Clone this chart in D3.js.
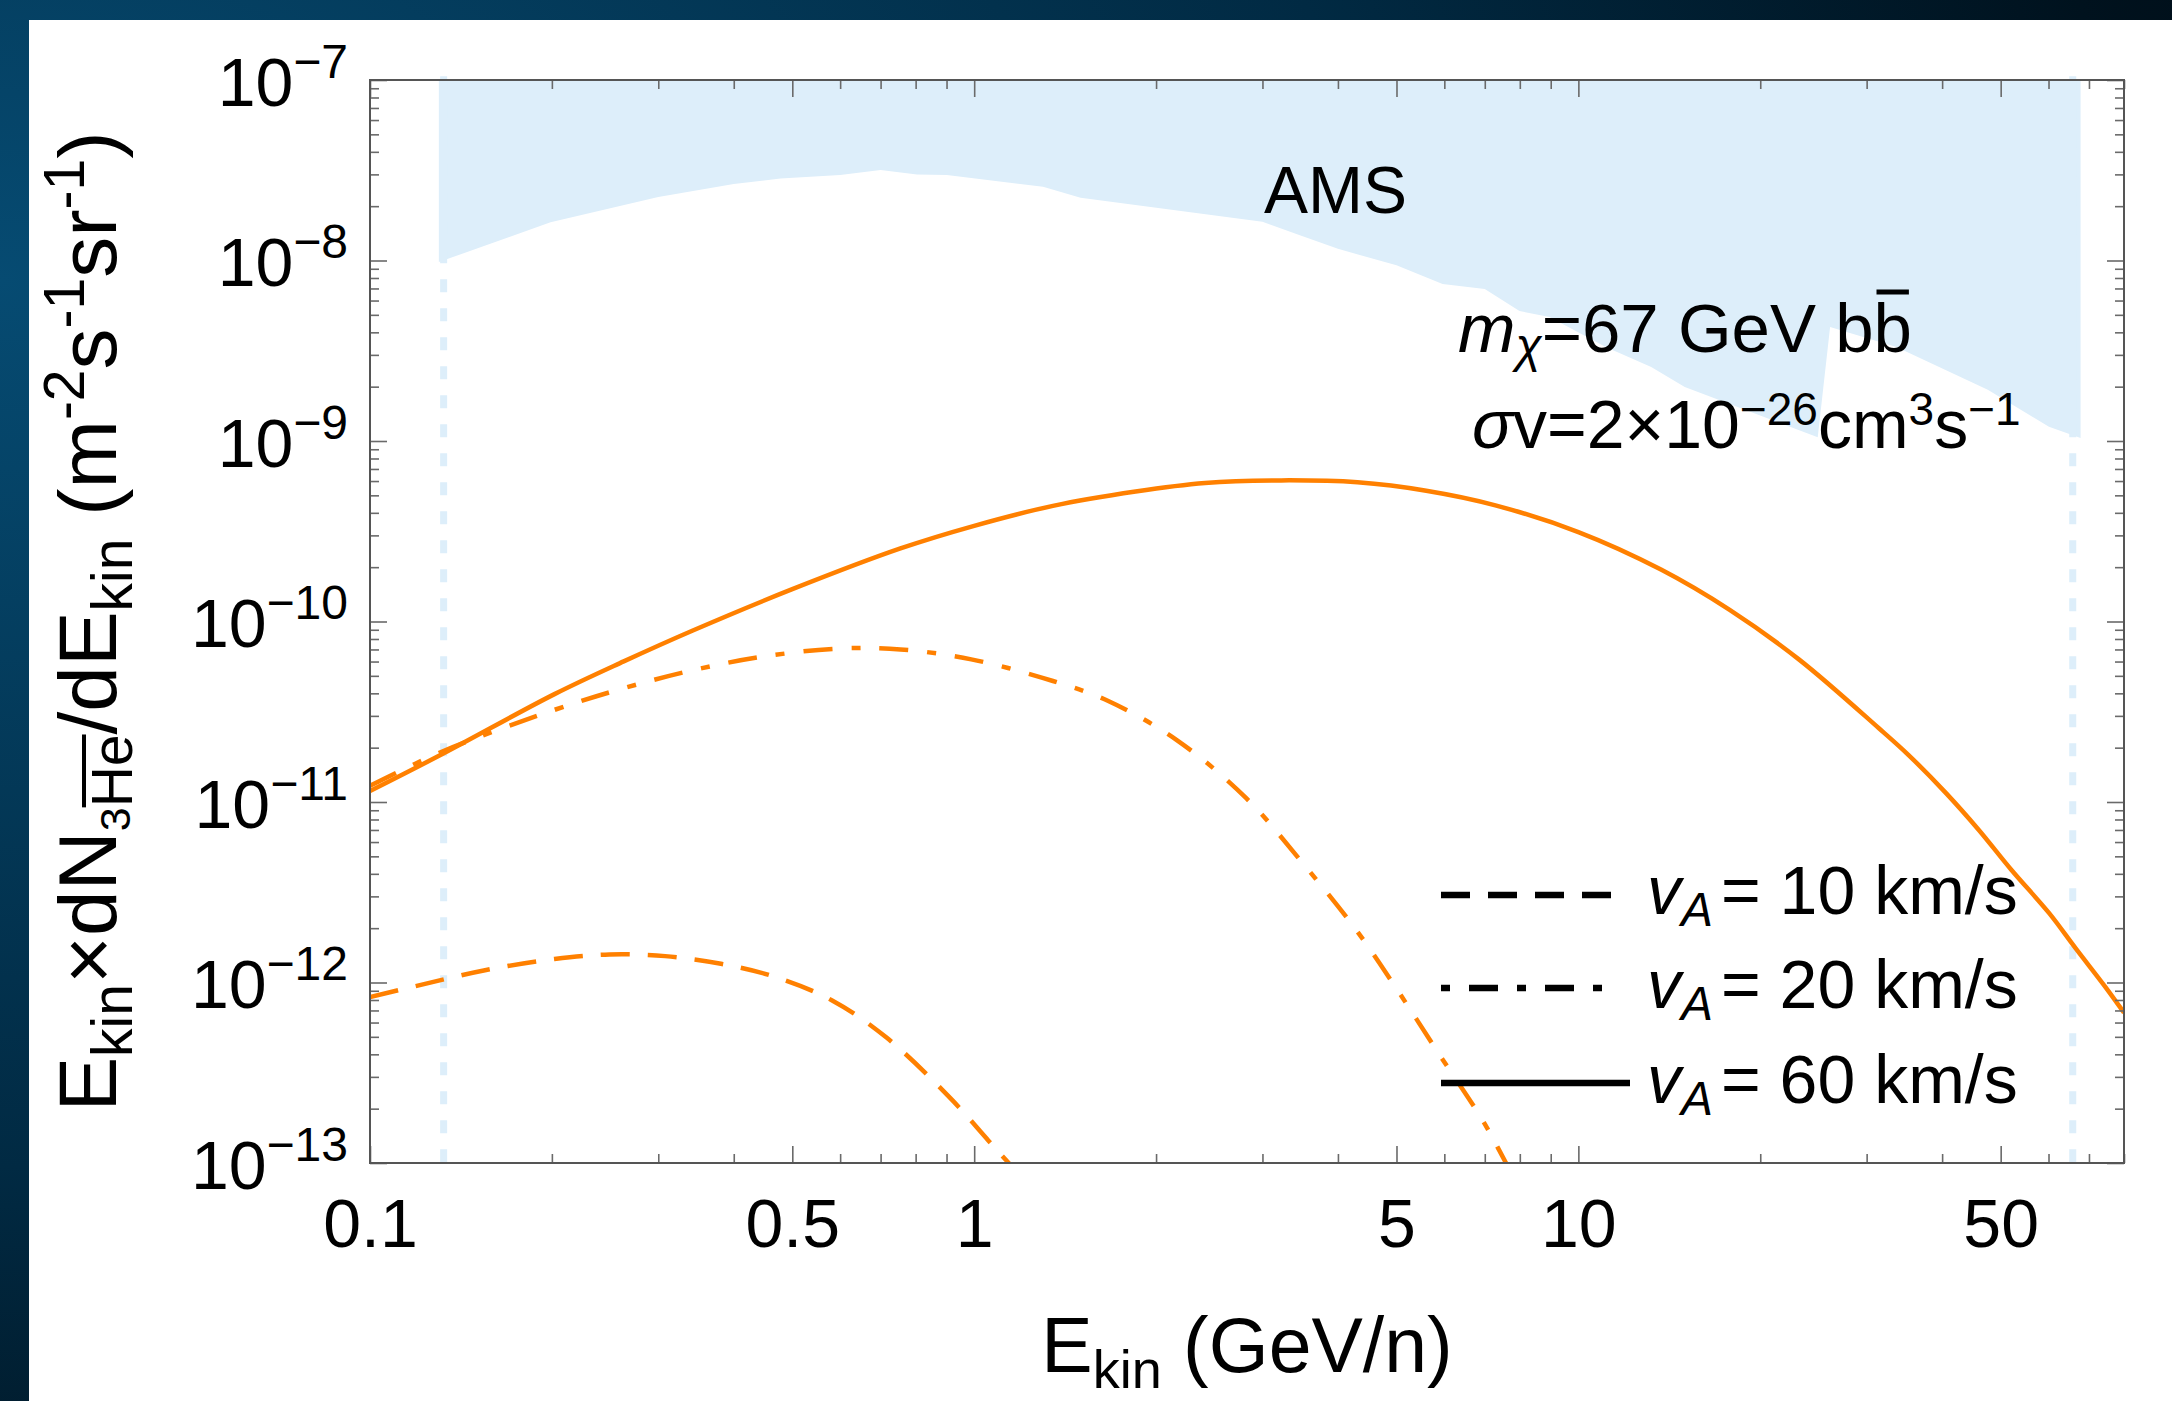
<!DOCTYPE html>
<html><head><meta charset="utf-8">
<script src="https://cdn.jsdelivr.net/npm/d3@7"></script>
<style>html,body{margin:0;padding:0;background:#fff;overflow:hidden}svg{display:block}</style>
</head><body>
<svg id="chart" width="2172" height="1401"></svg>
<script>
// ---------------- data ----------------
const xMajorTicks = [0.1, 0.5, 1, 5, 10, 50];
const xMajorLabels = ["0.1", "0.5", "1", "5", "10", "50"];
const xMinorTicks = [0.2,0.3,0.4,0.6,0.7,0.8,0.9,2,3,4,6,7,8,9,20,30,40,60,70,80];
const yMajorExponents = [-7, -8, -9, -10, -11, -12, -13];
const yMinorMultipliers = [2, 3, 4, 5, 6, 7, 8, 9];

// AMS sensitivity region (lower boundary of the shaded band)
const amsEnergy = [0.130, 0.199, 0.300, 0.400, 0.478, 0.600, 0.700, 0.804, 0.901, 1.30, 1.50, 3.0, 3.46, 4.0, 5.0, 5.96, 7.0, 7.99, 8.96, 11.1, 13.2, 15.0, 24.9, 26.1, 33.6, 47.6, 60.1, 67.8];
const amsFlux = [9.8e-9, 1.63e-8, 2.25e-8, 2.65e-8, 2.85e-8, 2.98e-8, 3.17e-8, 3.0e-8, 2.98e-8, 2.56e-8, 2.23e-8, 1.64e-8, 1.38e-8, 1.16e-8, 9.4e-9, 7.4e-9, 6.95e-9, 5.25e-9, 4.86e-9, 3.32e-9, 2.57e-9, 1.99e-9, 1.05e-9, 4.28e-9, 3.32e-9, 1.92e-9, 1.20e-9, 1.04e-9];
const amsUpper = 1e-7;
const amsRangeEnergy = [0.1324, 65.8];

// vA = 10 km/s (dashed)
const energy10 = [0.1, 0.119, 0.155, 0.202, 0.249, 0.308, 0.381, 0.47, 0.581, 0.716, 0.914, 1.056, 1.16, 1.35];
const flux10 = [8.3e-13, 9.55e-13, 1.17e-12, 1.35e-12, 1.43e-12, 1.40e-12, 1.27e-12, 1.07e-12, 7.98e-13, 4.95e-13, 2.28e-13, 1.33e-13, 9.4e-14, 5.4e-14];
// vA = 20 km/s (dot-dashed)
const energy20 = [0.1, 0.132, 0.202, 0.263, 0.342, 0.446, 0.596, 0.755, 0.989, 1.35, 1.667, 2.17, 2.82, 3.48, 4.31, 5.06, 5.89, 6.93, 7.59, 8.32];
const flux20 = [1.23e-11, 1.91e-11, 3.24e-11, 4.27e-11, 5.37e-11, 6.38e-11, 7.08e-11, 7.0e-11, 6.17e-11, 4.68e-11, 3.63e-11, 2.19e-11, 1.05e-11, 4.68e-12, 1.91e-12, 8.7e-13, 3.98e-13, 1.74e-13, 1.0e-13, 5.6e-14];
// vA = 60 km/s (solid)
const energy60 = [0.1, 0.132, 0.202, 0.263, 0.343, 0.5, 0.755, 1.0, 1.35, 1.85, 2.41, 3.22, 4.31, 5.6, 7.29, 10, 13.7, 17.8, 23.2, 31.4, 35.2, 40.6, 46.0, 52.1, 60.1, 66.5, 74.6, 80];
const flux60 = [1.15e-11, 1.85e-11, 3.96e-11, 6.01e-11, 8.94e-11, 1.51e-10, 2.54e-10, 3.39e-10, 4.37e-10, 5.25e-10, 5.85e-10, 6.05e-10, 5.90e-10, 5.30e-10, 4.40e-10, 3.13e-10, 1.94e-10, 1.16e-10, 6.15e-11, 2.57e-11, 1.82e-11, 1.12e-11, 7.0e-12, 4.2e-12, 2.43e-12, 1.55e-12, 9.4e-13, 6.8e-13];

const legendSpeeds = ["10", "20", "60"];

// ---------------- layout ----------------
const W = 2172, H = 1401;
const P = {l: 370, r: 2124, t: 80, b: 1163};
const FONT = "'Liberation Sans', Arial, Helvetica, sans-serif";
const ORANGE = "#ff8000";
const AMSBLUE = "#ddeefa";

const svg = d3.select("#chart");
const defs = svg.append("defs");
const grad = defs.append("radialGradient").attr("id", "bg")
  .attr("cx", 0).attr("cy", 0.2).attr("r", 1.15);
grad.append("stop").attr("offset", 0).attr("stop-color", "#064b72");
grad.append("stop").attr("offset", 0.55).attr("stop-color", "#012a43");
grad.append("stop").attr("offset", 0.85).attr("stop-color", "#00121e");
grad.append("stop").attr("offset", 1).attr("stop-color", "#000b13");
defs.append("clipPath").attr("id", "plotclip").append("rect")
  .attr("x", P.l).attr("y", P.t).attr("width", P.r - P.l).attr("height", P.b - P.t);

svg.append("rect").attr("width", W).attr("height", H).attr("fill", "url(#bg)");
svg.append("rect").attr("x", 29).attr("y", 20).attr("width", W - 29).attr("height", H - 20).attr("fill", "#fff");

const x = d3.scaleLog().domain([0.1, 80]).range([P.l, P.r]);
const y = d3.scaleLog().domain([1e-13, 1e-7]).range([P.b, P.t]);

// ---------------- AMS band ----------------
const amsPoly = [[amsEnergy[0], amsUpper]]
  .concat(amsEnergy.map((e, i) => [e, amsFlux[i]]))
  .concat([[amsEnergy[amsEnergy.length - 1], amsUpper]]);
svg.append("path")
  .attr("clip-path", "url(#plotclip)")
  .attr("d", d3.line().x(d => x(d[0])).y(d => y(d[1]))(amsPoly) + "Z")
  .attr("fill", AMSBLUE);

svg.selectAll(".rangeLine").data(amsRangeEnergy).enter().append("line")
  .attr("x1", d => x(d)).attr("x2", d => x(d))
  .attr("y1", y(1.05e-7)).attr("y2", y(9.5e-14))
  .attr("stroke", AMSBLUE).attr("stroke-width", 7).attr("stroke-dasharray", "13,16");

// ---------------- curves ----------------
const line = d3.line().x(d => x(d[0])).y(d => y(d[1])).curve(d3.curveCatmullRom.alpha(0.5));
const curves = [
  {e: energy10, f: flux10, dash: "29,18"},
  {e: energy20, f: flux20, dash: "29,19,9,19"},
  {e: energy60, f: flux60, dash: null}
];
const cg = svg.append("g").attr("clip-path", "url(#plotclip)");
curves.forEach(c => {
  cg.append("path")
    .attr("d", line(c.e.map((e, i) => [e, c.f[i]])))
    .attr("fill", "none").attr("stroke", ORANGE).attr("stroke-width", 4.5)
    .attr("stroke-dasharray", c.dash);
});

// ---------------- axes ----------------
const yMajorVals = yMajorExponents.map(e => Math.pow(10, e));
const yMinorVals = [];
for (let e = -13; e <= -8; e++) yMinorMultipliers.forEach(m => yMinorVals.push(m * Math.pow(10, e)));

function styleAxis(g) {
  g.select(".domain").remove();
  g.selectAll(".tick line").attr("stroke", "#6a6a6a").attr("stroke-width", 1.6);
  g.attr("font-family", FONT);
}
// bottom
const bx = svg.append("g").attr("transform", `translate(0,${P.b})`)
  .call(d3.axisBottom(x).tickValues(xMajorTicks).tickSize(-17).tickFormat((d, i) => xMajorLabels[i]))
  .call(styleAxis).attr("font-size", 68);
bx.selectAll(".tick text").attr("y", 84).attr("dy", 0).attr("fill", "#000");
svg.append("g").attr("transform", `translate(0,${P.b})`)
  .call(d3.axisBottom(x).tickValues(xMinorTicks).tickSize(-9).tickFormat(""))
  .call(styleAxis);
// top
svg.append("g").attr("transform", `translate(0,${P.t})`)
  .call(d3.axisTop(x).tickValues(xMajorTicks).tickSize(-17).tickFormat(""))
  .call(styleAxis);
svg.append("g").attr("transform", `translate(0,${P.t})`)
  .call(d3.axisTop(x).tickValues(xMinorTicks).tickSize(-9).tickFormat(""))
  .call(styleAxis);
// left
const ly = svg.append("g").attr("transform", `translate(${P.l},0)`)
  .call(d3.axisLeft(y).tickValues(yMajorVals).tickSize(-17).tickFormat(""))
  .call(styleAxis).attr("font-size", 68);
ly.selectAll(".tick text").each(function(d, i) {
  const t = d3.select(this).attr("x", -22).attr("y", 25).attr("dy", 0).attr("fill", "#000").attr("text-anchor", "end");
  t.text(null);
  t.append("tspan").text("10");
  t.append("tspan").attr("font-size", 48).attr("dy", -28).text("\u2212" + Math.abs(yMajorExponents[i]));
});
svg.append("g").attr("transform", `translate(${P.l},0)`)
  .call(d3.axisLeft(y).tickValues(yMinorVals).tickSize(-9).tickFormat(""))
  .call(styleAxis);
// right
svg.append("g").attr("transform", `translate(${P.r},0)`)
  .call(d3.axisRight(y).tickValues(yMajorVals).tickSize(-17).tickFormat(""))
  .call(styleAxis);
svg.append("g").attr("transform", `translate(${P.r},0)`)
  .call(d3.axisRight(y).tickValues(yMinorVals).tickSize(-9).tickFormat(""))
  .call(styleAxis);
// frame
svg.append("rect").attr("x", P.l).attr("y", P.t).attr("width", P.r - P.l).attr("height", P.b - P.t)
  .attr("fill", "none").attr("stroke", "#555").attr("stroke-width", 2);

// ---------------- axis titles ----------------
const xt = svg.append("text").attr("x", (P.l + P.r) / 2).attr("y", 1372)
  .attr("text-anchor", "middle").attr("font-family", FONT).attr("font-size", 77);
xt.append("tspan").text("E");
xt.append("tspan").attr("font-size", 54).attr("dy", 16).text("kin");
xt.append("tspan").attr("dy", -16).text(" (GeV/n)");

const ytg = svg.append("g").attr("transform", `translate(116,${(P.t + P.b) / 2}) rotate(-90)`);
const yt = ytg.append("text").attr("text-anchor", "middle").attr("font-family", FONT).attr("font-size", 82);
yt.append("tspan").text("E");
yt.append("tspan").attr("font-size", 57).attr("dy", 16).text("kin");
yt.append("tspan").attr("dy", -16).text("\u00d7dN");
yt.append("tspan").attr("font-size", 43).attr("dy", 14).text("3");
yt.append("tspan").attr("font-size", 57).attr("dy", 2).text("He");
yt.append("tspan").attr("dy", -16).text("/dE");
yt.append("tspan").attr("font-size", 57).attr("dy", 16).text("kin");
yt.append("tspan").attr("dy", -16).text(" (m");
yt.append("tspan").attr("font-size", 57).attr("dy", -32).text("-2");
yt.append("tspan").attr("dy", 32).text("s");
yt.append("tspan").attr("font-size", 57).attr("dy", -32).text("-1");
yt.append("tspan").attr("dy", 32).text("sr");
yt.append("tspan").attr("font-size", 57).attr("dy", -32).text("-1");
yt.append("tspan").attr("dy", 32).text(")");
{
  const n = yt.node();
  const a = n.getExtentOfChar(8), b = n.getExtentOfChar(9);
  ytg.append("line").attr("x1", a.x).attr("x2", b.x + b.width)
    .attr("y1", a.y + 4).attr("y2", a.y + 4).attr("stroke", "#000").attr("stroke-width", 4);
}

// ---------------- annotations ----------------
svg.append("text").attr("x", 1264).attr("y", 213).attr("font-family", FONT).attr("font-size", 66).text("AMS");

const a1 = svg.append("text").attr("x", 1458).attr("y", 352).attr("font-family", FONT).attr("font-size", 69);
a1.append("tspan").attr("font-style", "italic").text("m");
a1.append("tspan").attr("font-style", "italic").attr("font-size", 48).attr("dy", 10).text("\u03c7");
a1.append("tspan").attr("dy", -10).text("=67 GeV bb");
{
  const n = a1.node();
  const e = n.getExtentOfChar(n.getNumberOfChars() - 1);
  svg.append("line").attr("x1", e.x + 3).attr("x2", e.x + e.width - 3)
    .attr("y1", 292).attr("y2", 292).attr("stroke", "#000").attr("stroke-width", 5);
}
const a2 = svg.append("text").attr("x", 1472).attr("y", 448).attr("font-family", FONT).attr("font-size", 68);
a2.append("tspan").attr("font-style", "italic").text("\u03c3");
a2.append("tspan").text("v=2\u00d710");
a2.append("tspan").attr("font-size", 46).attr("dy", -23).text("\u221226");
a2.append("tspan").attr("dy", 23).text("cm");
a2.append("tspan").attr("font-size", 46).attr("dy", -23).text("3");
a2.append("tspan").attr("dy", 23).text("s");
a2.append("tspan").attr("font-size", 46).attr("dy", -23).text("\u22121");

// ---------------- legend ----------------
const legendRows = [
  {dash: "29,18", len: 170, yLine: 895, yText: 914},
  {dash: "9,19,29,19", len: 164, yLine: 988, yText: 1008},
  {dash: null, len: 189, yLine: 1083, yText: 1103}
];
legendRows.forEach((r, i) => {
  svg.append("line").attr("x1", 1441).attr("x2", 1441 + r.len)
    .attr("y1", r.yLine).attr("y2", r.yLine)
    .attr("stroke", "#000").attr("stroke-width", 6.5).attr("stroke-dasharray", r.dash);
  const t = svg.append("text").attr("y", r.yText).attr("font-family", FONT).attr("font-size", 68);
  t.append("tspan").attr("x", 1647).attr("font-style", "italic").text("v");
  t.append("tspan").attr("x", 1681).attr("font-style", "italic").attr("font-size", 48).attr("dy", 12).text("A");
  t.append("tspan").attr("x", 1721).attr("dy", -12).text("= " + legendSpeeds[i] + " km/s");
});
</script>
</body></html>
